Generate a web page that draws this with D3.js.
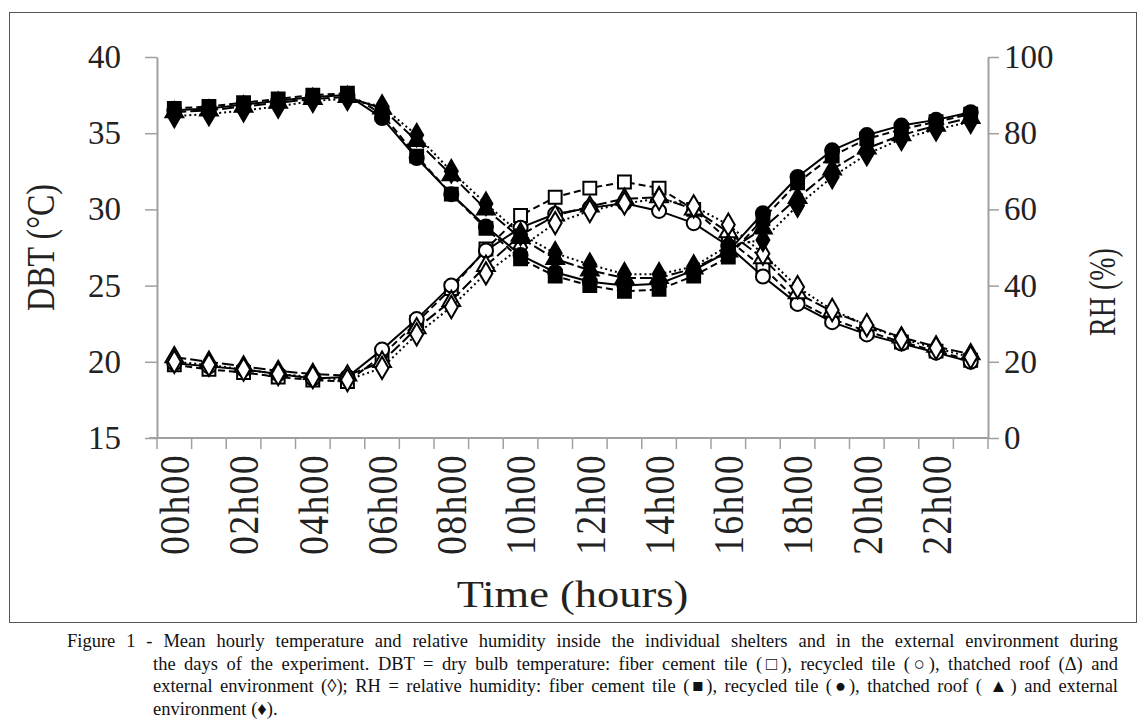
<!DOCTYPE html>
<html lang="en">
<head>
<meta charset="UTF-8">
<title>Mean hourly DBT and RH</title>
<script src="https://d3js.org/d3.v7.min.js"></script>
<style>
  body { margin: 0; background: #fff; }
  svg { position: absolute; left: 0; top: 0; }
  .caption { position: absolute; left: 67px; top: 630px; width: 1051px;
    font-family: "Liberation Serif", "Times New Roman", serif; font-size: 18.5px; line-height: 22.6px; color: #111; }
  .caption div { text-align: justify; text-align-last: justify; white-space: nowrap; }
  .caption div.ind { padding-left: 86px; }
  .caption div.last { text-align-last: left; }
</style>
</head>
<body>
<svg width="1145" height="726"></svg>
<div class="caption">
  <div>Figure 1 - Mean hourly temperature and relative humidity inside the individual shelters and in the external environment during</div>
  <div class="ind">the days of the experiment. DBT = dry bulb temperature: fiber cement tile (□), recycled tile (○), thatched roof (Δ) and</div>
  <div class="ind">external environment (◊); RH = relative humidity: fiber cement tile (■), recycled tile (●), thatched roof ( ▲) and external</div>
  <div class="ind last">environment (♦).</div>
</div>
<script>
const hours = d3.range(24).map(h => (h < 10 ? "0" + h : "" + h) + "h00");

// DBT (°C), left axis
const dbtFiber    = [19.8, 19.5, 19.3, 19.0, 18.8, 18.7, 20.4, 22.6, 24.8, 27.4, 29.6, 30.8, 31.4, 31.8, 31.4, 30.0, 28.0, 26.2, 24.0, 22.8, 22.0, 21.3, 20.7, 20.1];
const dbtRecycled = [19.9, 19.7, 19.5, 19.2, 18.9, 19.0, 20.8, 22.8, 25.0, 27.3, 28.8, 29.7, 30.1, 30.4, 29.9, 29.1, 27.6, 25.6, 23.8, 22.6, 21.8, 21.2, 20.6, 20.0];
const dbtThatched = [20.3, 20.0, 19.7, 19.4, 19.2, 19.1, 20.0, 22.2, 24.0, 26.3, 28.3, 29.6, 30.2, 30.7, 30.8, 30.0, 28.5, 26.8, 24.5, 23.3, 22.4, 21.6, 21.0, 20.5];
const dbtExternal = [20.0, 19.8, 19.5, 19.2, 19.0, 18.8, 19.6, 21.8, 23.6, 25.8, 27.5, 29.1, 29.9, 30.4, 30.7, 30.2, 29.0, 27.1, 24.9, 23.4, 22.4, 21.5, 20.9, 20.3];

// RH (%), right axis
const rhFiber    = [86.5, 87, 88, 89, 90, 90.5, 85, 74, 64, 55, 47, 42.5, 40, 38.5, 39, 42.5, 47.5, 57.5, 67, 74, 78.5, 81, 83, 85];
const rhRecycled = [86, 86.5, 87.5, 88.5, 89.5, 90, 84, 73.5, 64, 55.5, 48, 43.5, 41, 40, 40.5, 44, 49, 59, 68.5, 75.5, 79.5, 82, 83.5, 85.5];
const rhThatched = [85.5, 86, 87, 88, 89, 89.5, 86.5, 78, 69, 60, 52.5, 47, 44, 42, 42, 44.5, 49, 55, 63, 70.5, 76, 79.5, 82, 84];
const rhExternal = [84.5, 85, 86, 87, 88.5, 89, 87, 79.5, 70, 61.5, 53.5, 48.5, 45.5, 43, 43, 45, 50.5, 52, 61, 68.5, 74.5, 78.5, 81, 83];

const dbtTicks = [15, 20, 25, 30, 35, 40];
const rhTicks = [0, 20, 40, 60, 80, 100];

const series = [
  { v: dbtFiber,    axis: "L", sym: "square",   fill: "#fff", dash: "7,4" },
  { v: dbtRecycled, axis: "L", sym: "circle",   fill: "#fff", dash: null },
  { v: dbtThatched, axis: "L", sym: "triangle", fill: "#fff", dash: "12,4" },
  { v: dbtExternal, axis: "L", sym: "diamond",  fill: "#fff", dash: "2,3" },
  { v: rhFiber,     axis: "R", sym: "square",   fill: "#000", dash: "7,4" },
  { v: rhRecycled,  axis: "R", sym: "circle",   fill: "#000", dash: null },
  { v: rhThatched,  axis: "R", sym: "triangle", fill: "#000", dash: "12,4" },
  { v: rhExternal,  axis: "R", sym: "diamond",  fill: "#000", dash: "2,3" }
];

const plotL = 157, plotR = 988, plotT = 57, plotB = 438;
const font = "'Liberation Serif', 'Times New Roman', serif";
const axisColor = "#a0a0a0";

const svg = d3.select("svg");

// outer frame
svg.append("rect")
  .attr("x", 9.5).attr("y", 12.5)
  .attr("width", 1127).attr("height", 610)
  .attr("fill", "none").attr("stroke", "#555").attr("stroke-width", 1);

const x = d3.scaleBand().domain(hours).range([plotL, plotR]).padding(0);
const yL = d3.scaleLinear().domain([15, 40]).range([plotB, plotT]);
const yR = d3.scaleLinear().domain([0, 100]).range([plotB, plotT]);

// left axis
const gL = svg.append("g").attr("transform", `translate(${plotL},0)`)
  .call(d3.axisLeft(yL).tickValues(dbtTicks).tickSize(12).tickPadding(24).tickSizeOuter(0));
// right axis
const gR = svg.append("g").attr("transform", `translate(${plotR},0)`)
  .call(d3.axisRight(yR).tickValues(rhTicks).tickSize(11).tickPadding(5).tickSizeOuter(0));

[gL, gR].forEach(g => {
  g.select(".domain").attr("stroke", axisColor).attr("stroke-width", 2);
  g.selectAll(".tick line").attr("stroke", axisColor).attr("stroke-width", 1.5);
  g.selectAll(".tick text").attr("font-family", font).attr("font-size", 33).attr("fill", "#222");
});

// bottom axis: ticks on category boundaries, labels every 2 h
const gB = svg.append("g");
gB.append("line")
  .attr("x1", plotL - 8).attr("x2", plotR)
  .attr("y1", plotB).attr("y2", plotB)
  .attr("stroke", axisColor).attr("stroke-width", 2);
gB.selectAll("line.tk")
  .data(hours.map(h => x(h)).concat([plotR]))
  .join("line").attr("class", "tk")
  .attr("x1", d => d).attr("x2", d => d)
  .attr("y1", plotB).attr("y2", plotB + 11)
  .attr("stroke", axisColor).attr("stroke-width", 1.5);
gB.selectAll("text")
  .data(hours.filter((h, i) => i % 2 === 0))
  .join("text")
  .attr("transform", d => `translate(${x(d) + x.bandwidth() / 2},${plotB + 16}) rotate(-90) scale(1,1.12)`)
  .attr("text-anchor", "end").attr("dy", "0.35em")
  .attr("letter-spacing", 1.2)
  .attr("font-family", font).attr("font-size", 38).attr("fill", "#222")
  .text(d => d);

// axis titles
svg.append("text")
  .attr("transform", `translate(${(plotL + plotR) / 2},607) scale(1.17,1)`)
  .attr("text-anchor", "middle")
  .attr("font-family", font).attr("font-size", 38).attr("fill", "#222")
  .text("Time (hours)");
svg.append("text")
  .attr("transform", `translate(40,${(plotT + plotB) / 2}) rotate(-90) scale(1,1.22)`)
  .attr("text-anchor", "middle").attr("dy", "0.35em")
  .attr("font-family", font).attr("font-size", 32).attr("fill", "#222")
  .text("DBT (°C)");
svg.append("text")
  .attr("transform", `translate(1102,292) rotate(-90) scale(1,1.35)`)
  .attr("text-anchor", "middle").attr("dy", "0.35em")
  .attr("font-family", font).attr("font-size", 28).attr("fill", "#222")
  .text("RH (%)");

// lines and markers
const symbols = {
  square: d3.symbol(d3.symbolSquare, 165),
  circle: d3.symbol(d3.symbolCircle, 155),
  triangle: d3.symbol(d3.symbolTriangle, 135),
  diamond: d3.symbol(d3.symbolDiamond, 145)
};

series.forEach(s => {
  const y = s.axis === "L" ? yL : yR;
  const cx = (d, i) => x(hours[i]) + x.bandwidth() / 2;
  svg.append("path")
    .datum(s.v)
    .attr("fill", "none").attr("stroke", "#000").attr("stroke-width", 2)
    .attr("stroke-dasharray", s.dash)
    .attr("d", d3.line().x(cx).y(d => y(d)));
  svg.append("g").selectAll("path")
    .data(s.v)
    .join("path")
    .attr("transform", (d, i) => `translate(${cx(d, i)},${y(d)})`)
    .attr("d", symbols[s.sym])
    .attr("fill", s.fill).attr("stroke", "#000").attr("stroke-width", 2);
});
</script>
</body>
</html>
